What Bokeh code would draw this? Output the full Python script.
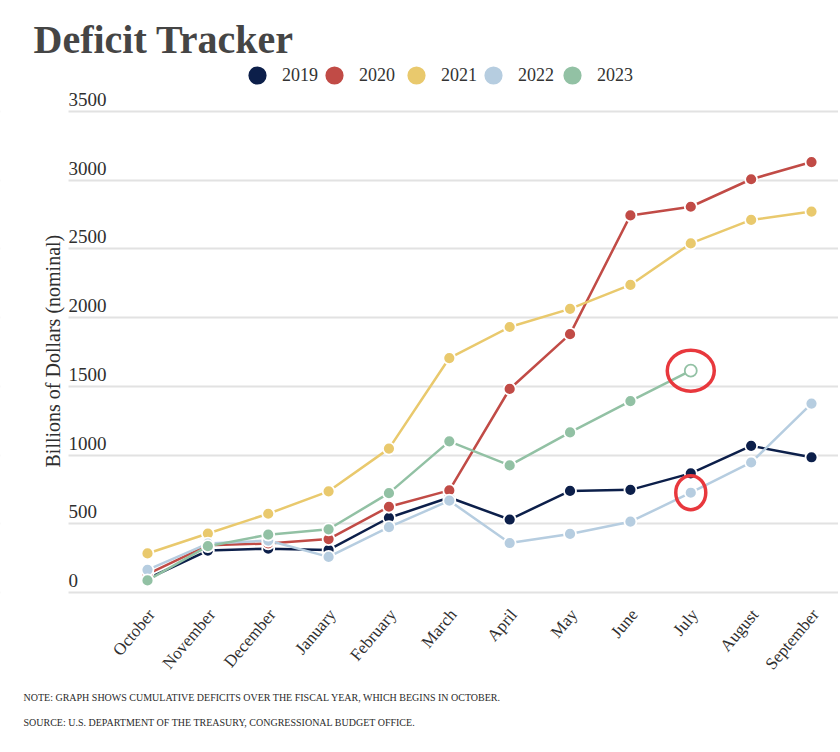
import math
from bokeh.plotting import figure
from bokeh.models import (Range1d, FixedTicker, Label, Legend, LegendItem,
                          ColumnDataSource, BoxAnnotation)
from bokeh.embed import file_html
from bokeh.resources import INLINE

# ---- data (billions of dollars, cumulative deficit by fiscal-year month) ----
months = ["October", "November", "December", "January", "February", "March",
          "April", "May", "June", "July", "August", "September"]
fy2019 = [100, 305, 319, 310, 544, 691, 531, 739, 747, 867, 1067, 984]
fy2020 = [134, 343, 357, 389, 624, 743, 1481, 1880, 2744, 2807, 3007, 3132]
fy2021 = [284, 429, 573, 736, 1047, 1706, 1932, 2064, 2238, 2540, 2711, 2772]
fy2022 = [165, 356, 378, 259, 475, 668, 360, 426, 515, 726, 946, 1375]
fy2023 = [88, 337, 421, 460, 723, 1100, 925, 1165, 1393, 1614]
series_names = ["2019", "2020", "2021", "2022", "2023"]
y_ticks = [0, 500, 1000, 1500, 2000, 2500, 3000, 3500]
highlight_month = "July"
title_text = "Deficit Tracker"
y_title = "Billions of Dollars (nominal)"
note_text = "NOTE: GRAPH SHOWS CUMULATIVE DEFICITS OVER THE FISCAL YEAR, WHICH BEGINS IN OCTOBER."
source_text = "SOURCE: U.S. DEPARTMENT OF THE TREASURY, CONGRESSIONAL BUDGET OFFICE."

colors = ["#0c1f4a", "#c14b46", "#e9c96d", "#b6cde0", "#92c1a4"]
legend_x = [257, 334, 416, 493, 572]   # legend circle centres (px)
SERIF = "Liberation Serif"
TXT = "#2f2f2f"

W, H = 838, 750
p = figure(width=W, height=H, output_backend="svg", toolbar_location=None,
           title=None, min_border=0, x_axis_location=None, y_axis_location=None,
           x_range=Range1d(-2.4352, 11.4473), y_range=Range1d(-1149.7, 4307.7))
p.outline_line_color = None
p.background_fill_color = "white"
p.border_fill_color = "white"

# horizontal gridlines
p.xgrid.visible = False
p.ygrid.ticker = FixedTicker(ticks=y_ticks)
p.ygrid.grid_line_color = "#e2e2e2"
p.ygrid.grid_line_width = 2
# keep the gridlines out of the left label gutter
p.add_layout(BoxAnnotation(left=0, right=68, left_units="screen", right_units="screen",
                           fill_color="white", fill_alpha=1, line_color=None,
                           level="underlay"))

# y tick labels, sitting on top of their gridlines
for t in y_ticks:
    p.add_layout(Label(x=68, x_units="screen", y=t, y_units="data", y_offset=12,
                       text=str(t), text_font=SERIF, text_font_size="19px",
                       text_color=TXT, text_baseline="middle", text_align="left"))

# x tick labels (rotated)
for i, m in enumerate(months):
    p.add_layout(Label(x=i, x_units="data", y=H - 611, y_units="screen", x_offset=4,
                       text=m, angle=math.radians(50), text_font=SERIF,
                       text_font_size="17px", text_color=TXT,
                       text_align="right", text_baseline="middle"))

# y axis title
p.add_layout(Label(x=52, y=H - 467, x_units="screen", y_units="screen",
                   text=y_title, angle=math.pi / 2,
                   text_font=SERIF, text_font_size="20px", text_color=TXT,
                   text_align="left", text_baseline="middle"))

# title
p.add_layout(Label(x=33, y=H - 39, x_units="screen", y_units="screen",
                   text=title_text, text_font=SERIF, text_font_style="bold",
                   text_font_size="40px", text_color="#454545",
                   text_baseline="middle", text_align="left"))

# footnotes
p.add_layout(Label(x=23, y=H - 697, x_units="screen", y_units="screen",
                   text=note_text, text_font=SERIF, text_font_size="10px",
                   text_color="#2a2a2a", text_baseline="middle"))
p.add_layout(Label(x=23, y=H - 722, x_units="screen", y_units="screen",
                   text=source_text, text_font=SERIF, text_font_size="10px",
                   text_color="#2a2a2a", text_baseline="middle"))

# series
all_series = [fy2019, fy2020, fy2021, fy2022, fy2023]
for name, vals, col, lx in zip(series_names, all_series, colors, legend_x):
    xs = list(range(len(vals)))
    fills = [col] * len(vals)
    outl = ["white"] * len(vals)
    if name == "2023":
        fills[-1] = "white"
        outl[-1] = col
    src = ColumnDataSource(dict(x=xs, y=vals, fill=fills, line=outl))
    p.line("x", "y", source=src, line_color=col, line_width=2.5)
    r = p.scatter("x", "y", source=src, size=12, fill_color="fill",
                  line_color="line", line_width=1.8)
    leg = Legend(items=[LegendItem(label=name, renderers=[r], index=0)],
                 orientation="horizontal", location=(lx - 25, H - 100),
                 glyph_width=50, glyph_height=50, label_standoff=0, spacing=0,
                 padding=0, margin=0, border_line_color=None,
                 background_fill_alpha=0,
                 label_text_font=SERIF, label_text_font_size="18px",
                 label_text_color="#333333")
    p.add_layout(leg, "center")

# hand-drawn highlight rings
hi = months.index(highlight_month)
p.ellipse(x=[hi], y=[fy2023[hi]], width=47, height=41, width_units="screen",
          height_units="screen", fill_color=None, line_color="#e8383d", line_width=3.5)
p.ellipse(x=[hi], y=[fy2022[hi]], width=30, height=34, width_units="screen",
          height_units="screen", fill_color=None, line_color="#e8383d", line_width=3.5)

open("out.html", "w").write(file_html(p, INLINE, title="Deficit Tracker"))
